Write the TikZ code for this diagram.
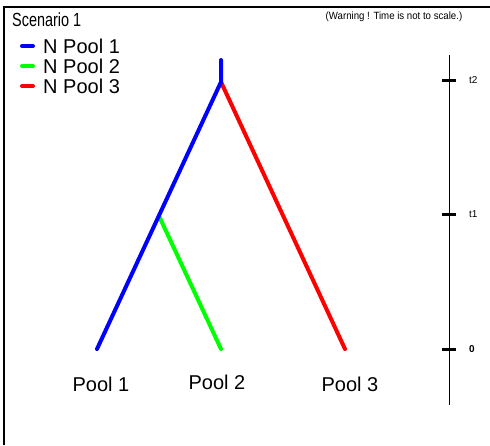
\documentclass[tikz,border=0pt]{standalone}
\usepackage{fontspec}
\setmainfont{Liberation Sans}
\newfontfamily\narrowfont[FakeStretch=0.76]{Liberation Sans}
\newfontfamily\warnfont[FakeStretch=0.92]{Liberation Sans}
\definecolor{poolblue}{RGB}{0,0,255}
\definecolor{poolgreen}{RGB}{0,255,0}
\definecolor{poolred}{RGB}{255,0,0}
\tikzset{
  branch/.style={line width=4pt, line cap=round},
  legendline/.style={line width=4pt, line cap=round},
  tickmark/.style={line width=3pt},
  biglabel/.style={font=\fontsize{20}{22}\selectfont, inner sep=0pt},
  smalllabel/.style={font=\fontsize{10}{12}\selectfont, inner sep=0pt},
}
\begin{document}
\begin{tikzpicture}[x=1pt,y=-1pt]
\useasboundingbox (0,0) rectangle (490,445);
% frame
\draw[line width=1.5pt] (4,445) -- (4,7) -- (490,7);
% titles
\node[anchor=west, inner sep=0pt, font=\narrowfont\fontsize{19}{21}\selectfont] (title) at (12,19.5) {Scenario 1};
\node[inner sep=0pt, font=\warnfont\fontsize{10.5}{12}\selectfont] (warn) at (394,17) {(Warning ! Time is not to scale.)};
% legend
\coordinate (l1a) at (22,46); \coordinate (l1b) at (33,46);
\coordinate (l2a) at (22,66); \coordinate (l2b) at (33,66);
\coordinate (l3a) at (22,86); \coordinate (l3b) at (33,86);
\draw[legendline, poolblue] (l1a) -- (l1b);
\draw[legendline, poolgreen] (l2a) -- (l2b);
\draw[legendline, poolred] (l3a) -- (l3b);
\node[biglabel, anchor=base west] (n1) at (43,53.5) {N Pool 1};
\node[biglabel, anchor=base west] (n2) at (43,73.5) {N Pool 2};
\node[biglabel, anchor=base west] (n3) at (43,93.5) {N Pool 3};
% tree
\coordinate (root) at (221,60);
\coordinate (split) at (221,82);
\coordinate (mid) at (159,216);
\coordinate (p1) at (97,349);
\coordinate (p2) at (221,349);
\coordinate (p3) at (345,349);
\draw[branch, poolred] (split) -- (p3);
\draw[branch, poolgreen] (mid) -- (p2);
\draw[branch, poolblue] (root) -- (split) -- (p1);
% pool labels
\node[biglabel, anchor=base] (pool1) at (101,391) {Pool 1};
\node[biglabel, anchor=base] (pool2) at (217,389) {Pool 2};
\node[biglabel, anchor=base] (pool3) at (350,391) {Pool 3};
% time axis
\coordinate (axtop) at (449,55);
\coordinate (axbot) at (449,405);
\draw[line width=1pt] (axtop) -- (axbot);
\coordinate (t2a) at (442,80); \coordinate (t2b) at (456,80);
\coordinate (t1a) at (442,214); \coordinate (t1b) at (456,214);
\coordinate (t0a) at (442,349); \coordinate (t0b) at (456,349);
\draw[tickmark] (t2a) -- (t2b);
\draw[tickmark] (t1a) -- (t1b);
\draw[tickmark] (t0a) -- (t0b);
\node[smalllabel, anchor=west] (lt2) at (469,80) {t2};
\node[smalllabel, anchor=west] (lt1) at (469,214) {t1};
\node[smalllabel, anchor=west, font=\bfseries\fontsize{10}{12}\selectfont] (lt0) at (469,349) {0};
\end{tikzpicture}
\end{document}
